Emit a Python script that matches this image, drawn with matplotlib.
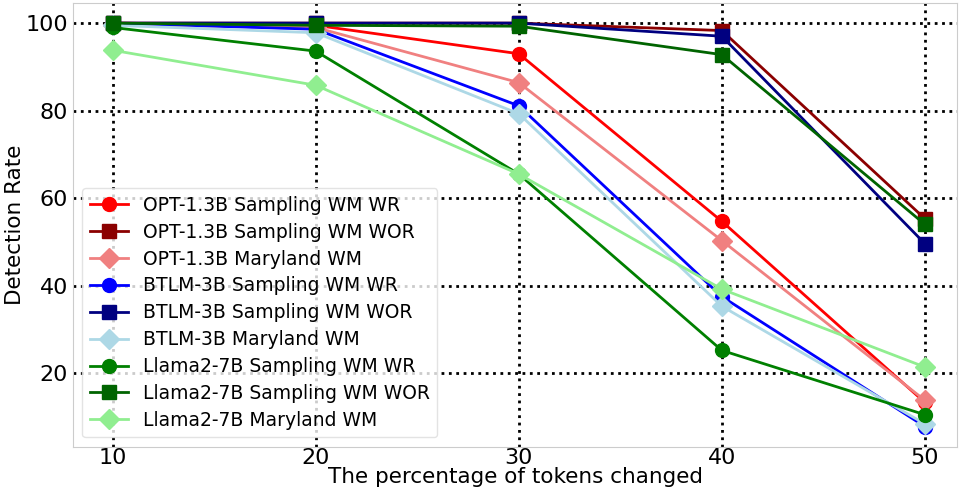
import matplotlib
matplotlib.use("Agg")
import matplotlib.pyplot as plt

x = [10, 20, 30, 40, 50]
opt_wr = [100, 99.5, 93.0, 54.7, 13.3]
opt_wor = [100, 100, 100, 98.3, 55.3]
opt_md = [99.6, 99.0, 86.4, 50.3, 13.8]
btlm_wr = [100, 98.6, 81.1, 37.5, 7.8]
btlm_wor = [100, 100, 100, 97.0, 49.6]
btlm_md = [99.5, 97.8, 79.3, 35.3, 8.4]
llama_wr = [99.0, 93.6, 65.5, 25.2, 10.5]
llama_wor = [100, 99.5, 99.3, 92.8, 54.0]
llama_md = [93.8, 85.8, 65.5, 39.2, 21.4]

series = [
    ("OPT-1.3B Sampling WM WR", opt_wr, "red", "o"),
    ("OPT-1.3B Sampling WM WOR", opt_wor, "darkred", "s"),
    ("OPT-1.3B Maryland WM", opt_md, "lightcoral", "D"),
    ("BTLM-3B Sampling WM WR", btlm_wr, "blue", "o"),
    ("BTLM-3B Sampling WM WOR", btlm_wor, "navy", "s"),
    ("BTLM-3B Maryland WM", btlm_md, "lightblue", "D"),
    ("Llama2-7B Sampling WM WR", llama_wr, "green", "o"),
    ("Llama2-7B Sampling WM WOR", llama_wor, "darkgreen", "s"),
    ("Llama2-7B Maryland WM", llama_md, "lightgreen", "D"),
]

fig, ax = plt.subplots(figsize=(9.69, 4.91), dpi=100)
for label, y, c, m in series:
    ax.plot(x, y, color=c, marker=m, markersize=10, linewidth=2, label=label)

ax.set_xticks(x)
ax.set_xlim(8.03, 51.6)
ax.set_yticks([20, 40, 60, 80, 100])
ax.grid(True, color="black", linestyle=":", linewidth=2)
ax.tick_params(axis="x", labelsize=16, length=0, pad=1)
ax.tick_params(axis="y", labelsize=16, length=0, pad=3.4)
for s in ax.spines.values():
    s.set_color("#cccccc")
ax.set_xlabel("The percentage of tokens changed", fontsize=15.5, labelpad=-1)
ax.set_ylabel("Detection Rate", fontsize=15.5, labelpad=0.5)
leg = ax.legend(loc="lower left", fontsize=13.5, frameon=True, handlelength=2.05,
                labelspacing=0.42)
leg.get_frame().set_edgecolor("#dddddd")
fig.subplots_adjust(left=0.075, right=0.988, top=0.994, bottom=0.0902)
fig.savefig("out.png", dpi=100)
